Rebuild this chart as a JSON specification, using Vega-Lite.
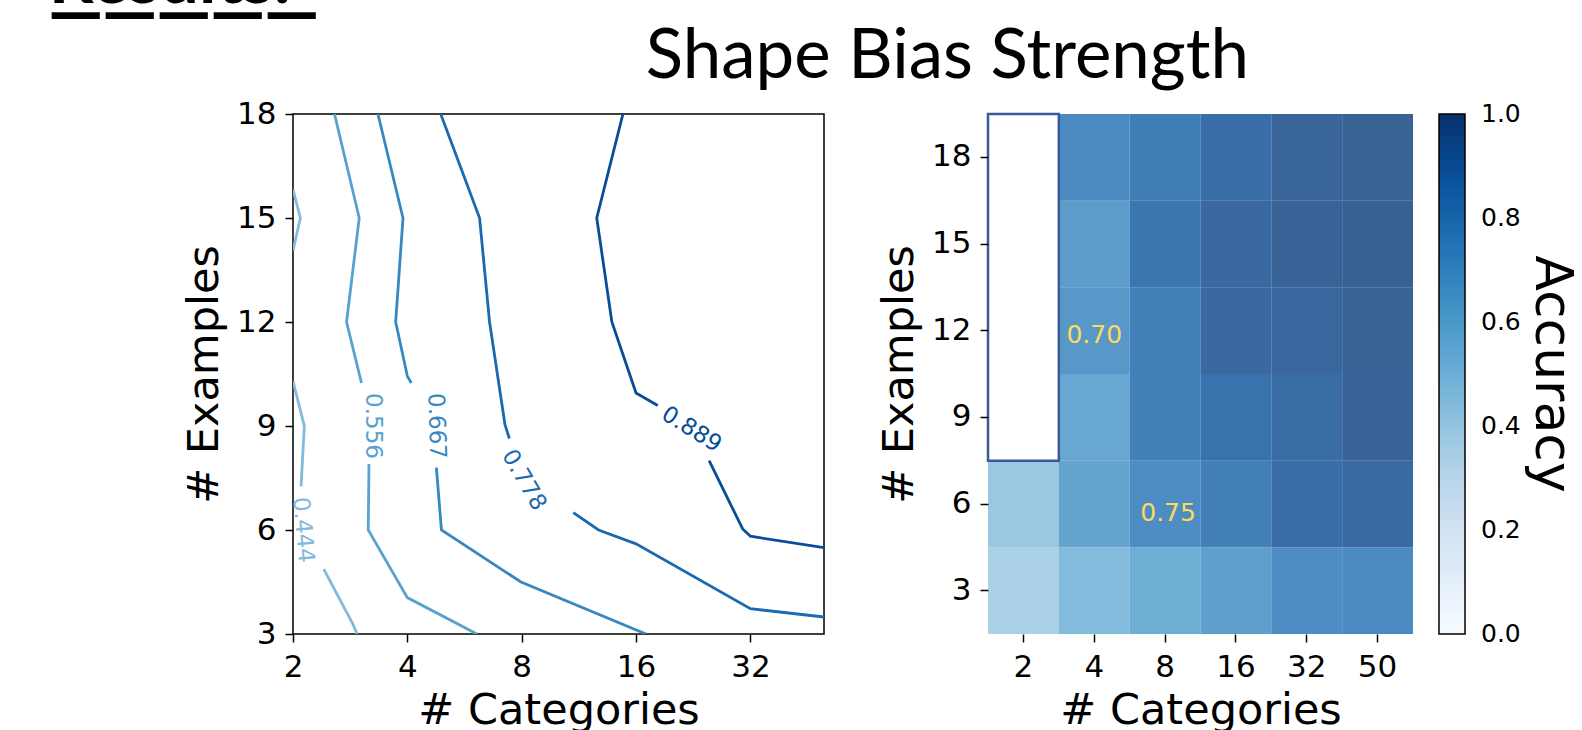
{
  "$schema": "https://vega.github.io/schema/vega-lite/v6.json",
  "background": "white",
  "padding": {"left": 48, "top": -53, "right": 0, "bottom": 0},
  "config": {
    "font": "DejaVu Sans",
    "text": {"font": "DejaVu Sans"},
    "axis": {
      "labelFont": "DejaVu Sans", "titleFont": "DejaVu Sans",
      "labelColor": "black", "titleColor": "black",
      "tickColor": "black", "tickWidth": 1.5, "tickSize": 8,
      "labelFontSize": 31, "titleFontSize": 43, "titleFontWeight": "normal",
      "grid": false, "domain": false
    },
    "axisX": {"labelPadding": 10, "titlePadding": 7, "labelAngle": 0, "labelFlush": false},
    "axisY": {"labelPadding": 9, "titlePadding": 10},
    "legend": {"labelFont": "DejaVu Sans", "titleFont": "DejaVu Sans", "labelColor": "black", "titleColor": "black"}
  },
  "title": {
    "text": "Results:",
    "subtitle": "—————",
    "anchor": "start",
    "dx": -134,
    "offset": -19,
    "font": "Lato",
    "fontSize": 70,
    "fontWeight": "bold",
    "color": "black",
    "subtitleFont": "DejaVu Sans",
    "subtitleFontSize": 54,
    "subtitleFontWeight": "bold",
    "subtitleColor": "black",
    "subtitlePadding": -31
  },
  "vconcat": [
    {
      "title": {
        "text": "Shape Bias Strength",
        "anchor": "middle",
        "dx": 67,
        "offset": 5,
        "font": "Lato",
        "fontSize": 69,
        "fontWeight": "normal",
        "color": "black"
      },
      "spacing": 53,
      "resolve": {
        "scale": {"fill": "independent", "stroke": "independent", "color": "independent"},
        "legend": {"fill": "independent"}
      },
      "hconcat": [
        {
          "width": 531,
          "height": 520,
          "view": {"stroke": "black", "strokeWidth": 1.5},
          "layer": [
            {
              "data": {"values": [
                {"segment": "a444", "level": 0.444, "vertex": 0, "categories": 2, "examples": 15.82},
                {"segment": "a444", "level": 0.444, "vertex": 1, "categories": 2.091, "examples": 15},
                {"segment": "a444", "level": 0.444, "vertex": 2, "categories": 2, "examples": 14.06},
                {"segment": "b444", "level": 0.444, "vertex": 0, "categories": 2, "examples": 10.29},
                {"segment": "b444", "level": 0.444, "vertex": 1, "categories": 2.142, "examples": 9.0},
                {"segment": "b444", "level": 0.444, "vertex": 2, "categories": 2.1, "examples": 7.26},
                {"segment": "c444", "level": 0.444, "vertex": 0, "categories": 2.41, "examples": 4.87},
                {"segment": "c444", "level": 0.444, "vertex": 1, "categories": 2.88, "examples": 3.27},
                {"segment": "c444", "level": 0.444, "vertex": 2, "categories": 2.948, "examples": 3.0},
                {"segment": "a556", "level": 0.556, "vertex": 0, "categories": 2.572, "examples": 18},
                {"segment": "a556", "level": 0.556, "vertex": 1, "categories": 2.988, "examples": 15},
                {"segment": "a556", "level": 0.556, "vertex": 2, "categories": 2.767, "examples": 12},
                {"segment": "a556", "level": 0.556, "vertex": 3, "categories": 3.029, "examples": 10.24},
                {"segment": "b556", "level": 0.556, "vertex": 0, "categories": 3.17, "examples": 7.9},
                {"segment": "b556", "level": 0.556, "vertex": 1, "categories": 3.156, "examples": 6},
                {"segment": "b556", "level": 0.556, "vertex": 2, "categories": 4, "examples": 4.05},
                {"segment": "b556", "level": 0.556, "vertex": 3, "categories": 6.1, "examples": 3.0},
                {"segment": "a667", "level": 0.667, "vertex": 0, "categories": 3.347, "examples": 18},
                {"segment": "a667", "level": 0.667, "vertex": 1, "categories": 3.896, "examples": 15},
                {"segment": "a667", "level": 0.667, "vertex": 2, "categories": 3.727, "examples": 12},
                {"segment": "a667", "level": 0.667, "vertex": 3, "categories": 4, "examples": 10.44},
                {"segment": "a667", "level": 0.667, "vertex": 4, "categories": 4.098, "examples": 10.24},
                {"segment": "b667", "level": 0.667, "vertex": 0, "categories": 4.77, "examples": 7.8},
                {"segment": "b667", "level": 0.667, "vertex": 1, "categories": 4.918, "examples": 6},
                {"segment": "b667", "level": 0.667, "vertex": 2, "categories": 7.967, "examples": 4.5},
                {"segment": "b667", "level": 0.667, "vertex": 3, "categories": 17.0, "examples": 3.0},
                {"segment": "a778", "level": 0.778, "vertex": 0, "categories": 4.897, "examples": 18},
                {"segment": "a778", "level": 0.778, "vertex": 1, "categories": 6.198, "examples": 15},
                {"segment": "a778", "level": 0.778, "vertex": 2, "categories": 6.584, "examples": 12},
                {"segment": "a778", "level": 0.778, "vertex": 3, "categories": 7.23, "examples": 9.04},
                {"segment": "a778", "level": 0.778, "vertex": 4, "categories": 7.423, "examples": 8.64},
                {"segment": "b778", "level": 0.778, "vertex": 0, "categories": 10.94, "examples": 6.5},
                {"segment": "b778", "level": 0.778, "vertex": 1, "categories": 12.75, "examples": 6.0},
                {"segment": "b778", "level": 0.778, "vertex": 2, "categories": 16, "examples": 5.6},
                {"segment": "b778", "level": 0.778, "vertex": 3, "categories": 32, "examples": 3.73},
                {"segment": "b778", "level": 0.778, "vertex": 4, "categories": 50, "examples": 3.49},
                {"segment": "a889", "level": 0.889, "vertex": 0, "categories": 14.78, "examples": 18},
                {"segment": "a889", "level": 0.889, "vertex": 1, "categories": 12.61, "examples": 15},
                {"segment": "a889", "level": 0.889, "vertex": 2, "categories": 13.82, "examples": 12},
                {"segment": "a889", "level": 0.889, "vertex": 3, "categories": 16, "examples": 9.95},
                {"segment": "a889", "level": 0.889, "vertex": 4, "categories": 18.25, "examples": 9.59},
                {"segment": "b889", "level": 0.889, "vertex": 0, "categories": 24.92, "examples": 8.0},
                {"segment": "b889", "level": 0.889, "vertex": 1, "categories": 30.54, "examples": 6.03},
                {"segment": "b889", "level": 0.889, "vertex": 2, "categories": 32, "examples": 5.82},
                {"segment": "b889", "level": 0.889, "vertex": 3, "categories": 50, "examples": 5.49}
              ]},
              "mark": {"type": "line", "strokeWidth": 2.8, "clip": true},
              "encoding": {
                "x": {"field": "categories", "type": "quantitative",
                      "scale": {"type": "log", "base": 2, "domain": [2, 50], "nice": false},
                      "axis": {"values": [2, 4, 8, 16, 32], "format": "d", "title": "# Categories"}},
                "y": {"field": "examples", "type": "quantitative",
                      "scale": {"domain": [3, 18], "nice": false, "zero": false},
                      "axis": {"values": [3, 6, 9, 12, 15, 18], "format": "d", "title": "# Examples"}},
                "detail": {"field": "segment"},
                "order": {"field": "vertex", "type": "quantitative"},
                "stroke": {"field": "level", "type": "quantitative",
                           "scale": {"domain": [0, 1], "range": ["#f7fbff", "#deebf7", "#c6dbef", "#9ecae1", "#6baed6", "#4292c6", "#2171b5", "#08519c", "#08306b"], "interpolate": "rgb"},
                           "legend": null}
              }
            },
            {
              "data": {"values": [{"categories": 2.127, "examples": 6.0, "level": 0.444, "label": "0.444"}]},
              "mark": {"type": "text", "angle": 85, "fontSize": 23, "align": "center", "baseline": "middle"},
              "encoding": {
                "x": {"field": "categories", "type": "quantitative"},
                "y": {"field": "examples", "type": "quantitative"},
                "text": {"field": "label"},
                "fill": {"field": "level", "type": "quantitative",
                         "scale": {"domain": [0, 1], "range": ["#f7fbff", "#deebf7", "#c6dbef", "#9ecae1", "#6baed6", "#4292c6", "#2171b5", "#08519c", "#08306b"], "interpolate": "rgb"},
                         "legend": null}
              }
            },
            {
              "data": {"values": [{"categories": 3.25, "examples": 9.0, "level": 0.556, "label": "0.556"}]},
              "mark": {"type": "text", "angle": 90, "fontSize": 23, "align": "center", "baseline": "middle"},
              "encoding": {
                "x": {"field": "categories", "type": "quantitative"},
                "y": {"field": "examples", "type": "quantitative"},
                "text": {"field": "label"},
                "fill": {"field": "level", "type": "quantitative", "legend": null}
              }
            },
            {
              "data": {"values": [{"categories": 4.77, "examples": 9.0, "level": 0.667, "label": "0.667"}]},
              "mark": {"type": "text", "angle": 88, "fontSize": 23, "align": "center", "baseline": "middle"},
              "encoding": {
                "x": {"field": "categories", "type": "quantitative"},
                "y": {"field": "examples", "type": "quantitative"},
                "text": {"field": "label"},
                "fill": {"field": "level", "type": "quantitative", "legend": null}
              }
            },
            {
              "data": {"values": [{"categories": 8.11, "examples": 7.44, "level": 0.778, "label": "0.778"}]},
              "mark": {"type": "text", "angle": 60, "fontSize": 23, "align": "center", "baseline": "middle"},
              "encoding": {
                "x": {"field": "categories", "type": "quantitative"},
                "y": {"field": "examples", "type": "quantitative"},
                "text": {"field": "label"},
                "fill": {"field": "level", "type": "quantitative", "legend": null}
              }
            },
            {
              "data": {"values": [{"categories": 22.4, "examples": 8.9, "level": 0.889, "label": "0.889"}]},
              "mark": {"type": "text", "angle": 32, "fontSize": 23, "align": "center", "baseline": "middle"},
              "encoding": {
                "x": {"field": "categories", "type": "quantitative"},
                "y": {"field": "examples", "type": "quantitative"},
                "text": {"field": "label"},
                "fill": {"field": "level", "type": "quantitative", "legend": null}
              }
            }
          ]
        },
        {
          "width": 425,
          "height": 520,
          "view": {"stroke": null},
          "layer": [
            {
              "data": {"values": [
                {"categories": 4, "examples": 18, "accuracy": 0.76},
                {"categories": 8, "examples": 18, "accuracy": 0.835},
                {"categories": 16, "examples": 18, "accuracy": 0.9},
                {"categories": 32, "examples": 18, "accuracy": 0.945},
                {"categories": 50, "examples": 18, "accuracy": 0.96},
                {"categories": 4, "examples": 15, "accuracy": 0.676},
                {"categories": 8, "examples": 15, "accuracy": 0.865},
                {"categories": 16, "examples": 15, "accuracy": 0.925},
                {"categories": 32, "examples": 15, "accuracy": 0.955},
                {"categories": 50, "examples": 15, "accuracy": 0.97},
                {"categories": 4, "examples": 12, "accuracy": 0.7},
                {"categories": 8, "examples": 12, "accuracy": 0.815},
                {"categories": 16, "examples": 12, "accuracy": 0.925},
                {"categories": 32, "examples": 12, "accuracy": 0.93},
                {"categories": 50, "examples": 12, "accuracy": 0.96},
                {"categories": 4, "examples": 9, "accuracy": 0.63},
                {"categories": 8, "examples": 9, "accuracy": 0.815},
                {"categories": 16, "examples": 9, "accuracy": 0.88},
                {"categories": 32, "examples": 9, "accuracy": 0.91},
                {"categories": 50, "examples": 9, "accuracy": 0.955},
                {"categories": 2, "examples": 6, "accuracy": 0.446},
                {"categories": 4, "examples": 6, "accuracy": 0.645},
                {"categories": 8, "examples": 6, "accuracy": 0.75},
                {"categories": 16, "examples": 6, "accuracy": 0.815},
                {"categories": 32, "examples": 6, "accuracy": 0.9},
                {"categories": 50, "examples": 6, "accuracy": 0.92},
                {"categories": 2, "examples": 3, "accuracy": 0.397},
                {"categories": 4, "examples": 3, "accuracy": 0.52},
                {"categories": 8, "examples": 3, "accuracy": 0.6},
                {"categories": 16, "examples": 3, "accuracy": 0.665},
                {"categories": 32, "examples": 3, "accuracy": 0.745},
                {"categories": 50, "examples": 3, "accuracy": 0.765}
              ]},
              "mark": {"type": "rect", "fillOpacity": 0.8},
              "encoding": {
                "x": {"field": "categories", "type": "ordinal",
                      "scale": {"domain": [2, 4, 8, 16, 32, 50], "paddingInner": 0, "paddingOuter": 0},
                      "axis": {"title": "# Categories"}},
                "y": {"field": "examples", "type": "ordinal",
                      "scale": {"domain": [18, 15, 12, 9, 6, 3], "paddingInner": 0, "paddingOuter": 0},
                      "axis": {"title": "# Examples"}},
                "fill": {"field": "accuracy", "type": "quantitative",
                         "scale": {"domain": [0, 1], "range": ["#f7fbff", "#deebf7", "#c6dbef", "#9ecae1", "#6baed6", "#4292c6", "#2171b5", "#08519c", "#08306b"], "interpolate": "rgb"},
                         "legend": {
                           "type": "gradient", "direction": "vertical", "orient": "right", "offset": 26,
                           "padding": 0,
                           "gradientLength": 520, "gradientThickness": 26,
                           "gradientStrokeColor": "black", "gradientStrokeWidth": 1.5,
                           "values": [0, 0.2, 0.4, 0.6, 0.8, 1.0], "format": ".1f",
                           "labelFontSize": 25, "labelOffset": 16, "labelOverlap": false, "labelBaseline": "middle",
                           "title": "Accuracy", "titleOrient": "right", "titleFontSize": 52, "titleFontWeight": "normal",
                           "titleAnchor": "middle", "titlePadding": 4, "titleLimit": 1000,
                           "encode": {
                             "gradient": {"enter": {"opacity": {"value": 1}}, "update": {"opacity": {"value": 1}}},
                             "labels": {"enter": {"baseline": {"value": "middle"}}, "update": {"baseline": {"value": "middle"}}}
                           }
                         }}
              }
            },
            {
              "data": {"values": [{"categories": 2, "top": 18, "bottom": 9}]},
              "mark": {"type": "rect", "filled": false, "stroke": "#3a5a98", "strokeWidth": 2.5},
              "encoding": {
                "x": {"field": "categories", "type": "ordinal"},
                "y": {"field": "top", "type": "ordinal", "bandPosition": 0},
                "y2": {"field": "bottom", "bandPosition": 1}
              }
            },
            {
              "data": {"values": [{"categories": 4, "examples": 12, "label": "0.70"}]},
              "mark": {"type": "text", "fontSize": 25, "color": "#ffd95c", "baseline": "middle", "dy": 4},
              "encoding": {
                "x": {"field": "categories", "type": "ordinal"},
                "y": {"field": "examples", "type": "ordinal"},
                "text": {"field": "label"}
              }
            },
            {
              "data": {"values": [{"categories": 8, "examples": 6, "label": "0.75"}]},
              "mark": {"type": "text", "fontSize": 25, "color": "#ffd95c", "baseline": "middle", "dx": 3, "dy": 9},
              "encoding": {
                "x": {"field": "categories", "type": "ordinal"},
                "y": {"field": "examples", "type": "ordinal"},
                "text": {"field": "label"}
              }
            }
          ]
        }
      ]
    }
  ]
}
